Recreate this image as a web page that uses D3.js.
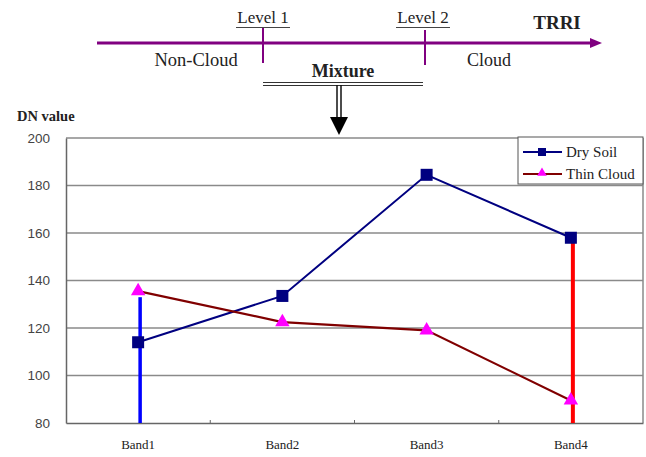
<!DOCTYPE html>
<html><head><meta charset="utf-8">
<script src="https://cdn.jsdelivr.net/npm/d3@7"></script>
<style>body{margin:0;background:#fff}svg{display:block}
.sf{font-family:"Liberation Serif","DejaVu Serif","Noto Serif",serif}
.ss{font-family:"Liberation Sans",Arial,sans-serif}</style>
</head><body>
<script>
const categories = ["Band1","Band2","Band3","Band4"];
const drySoil = [114, 133.5, 184.5, 158];
const thinCloud = [135.5, 122.5, 119, 89.5];
const yTicks = [80,100,120,140,160,180,200];
const seriesNames = ["Dry Soil","Thin Cloud"];

const W=646,H=457;
const svg=d3.select("body").append("svg").attr("width",W).attr("height",H);

const m={l:66,r:643,t:138,b:423};
const x=d3.scaleBand().domain(categories).range([m.l,m.r]);
const y=d3.scaleLinear().domain([80,200]).range([m.b,m.t]);
const cx=d=>x(d)+x.bandwidth()/2;

// gridlines
svg.append("g").selectAll("line").data(yTicks.slice(1)).join("line")
 .attr("x1",m.l).attr("x2",m.r).attr("y1",d=>y(d)).attr("y2",d=>y(d))
 .attr("stroke","#8a8a8a").attr("stroke-width",1.5);
svg.append("line").attr("x1",m.r).attr("x2",m.r).attr("y1",m.t).attr("y2",m.b).attr("stroke","#8a8a8a").attr("stroke-width",1.5);

// axes
const ya=svg.append("g").attr("transform",`translate(${m.l},0)`)
 .call(d3.axisLeft(y).tickValues(yTicks).tickSize(0).tickPadding(16));
ya.attr("font-family",null).attr("font-size",null);
ya.select(".domain").attr("stroke","#666").attr("stroke-width",1.5);
ya.selectAll("text").attr("class","ss").style("font-size","13.5px").attr("fill","#444");

const xa=svg.append("g").attr("transform",`translate(0,${m.b})`)
 .call(d3.axisBottom(x).tickSize(0).tickPadding(17));
xa.attr("font-family",null).attr("font-size",null);
xa.select(".domain").attr("stroke","#666").attr("stroke-width",1.5);
xa.selectAll("text").attr("class","sf").style("font-size","13px").attr("fill","#222");
svg.append("g").selectAll("line").data(categories.slice(1)).join("line")
 .attr("x1",d=>x(d)).attr("x2",d=>x(d)).attr("y1",m.b-3).attr("y2",m.b)
 .attr("stroke","#666").attr("stroke-width",1);

svg.append("text").attr("class","sf").attr("x",17).attr("y",121)
 .attr("font-weight","bold").style("font-size","14.5px").attr("fill","#222").text("DN value");

// vertical blue arrow at Band1 and red line at Band4
svg.append("line").attr("x1",cx(categories[0])+2).attr("x2",cx(categories[0])+2)
 .attr("y1",y(80)).attr("y2",y(thinCloud[0])+6).attr("stroke","#0000ff").attr("stroke-width",3.5);
svg.append("line").attr("x1",cx(categories[3])+2).attr("x2",cx(categories[3])+2)
 .attr("y1",y(80)).attr("y2",y(drySoil[3])).attr("stroke","#ff0000").attr("stroke-width",4);

const line=d3.line().x((d,i)=>cx(categories[i])).y(d=>y(d));
svg.append("path").datum(drySoil).attr("d",line).attr("fill","none").attr("stroke","#000080").attr("stroke-width",2);
svg.append("path").datum(thinCloud).attr("d",line).attr("fill","none").attr("stroke","#800000").attr("stroke-width",2.2);

svg.append("g").selectAll("rect").data(drySoil).join("rect")
 .attr("x",(d,i)=>cx(categories[i])-6).attr("y",d=>y(d)-6).attr("width",12).attr("height",12).attr("fill","#000080");
const tri=d3.symbol().type(d3.symbolTriangle).size(90);
svg.append("g").selectAll("path").data(thinCloud).join("path")
 .attr("transform",(d,i)=>`translate(${cx(categories[i])},${y(d)})`).attr("d",tri).attr("fill","#ff00ff");

// legend
const lg=svg.append("g");
lg.append("rect").attr("x",518).attr("y",137).attr("width",125).attr("height",47)
 .attr("fill","#fff").attr("stroke","#555").attr("stroke-width",1);
const lcol=["#000080","#800000"];
seriesNames.forEach((n,i)=>{
 const yy=152+i*22;
 lg.append("line").attr("x1",523).attr("x2",562).attr("y1",yy).attr("y2",yy).attr("stroke",lcol[i]).attr("stroke-width",2);
 if(i===0) lg.append("rect").attr("x",538).attr("y",yy-4).attr("width",8).attr("height",8).attr("fill","#000080");
 else lg.append("path").attr("transform",`translate(542,${yy-1})`).attr("d",d3.symbol().type(d3.symbolTriangle).size(40)).attr("fill","#ff00ff");
 lg.append("text").attr("class","sf").attr("x",566).attr("y",yy+5).style("font-size","15px").attr("fill","#222").text(n);
});

// top diagram
const diag=svg.append("g");
const pur="#800080";
diag.append("line").attr("x1",97).attr("x2",592).attr("y1",43).attr("y2",43).attr("stroke",pur).attr("stroke-width",3);
diag.append("path").attr("d","M590,38 L602,43 L590,48 Z").attr("fill",pur);
diag.append("line").attr("x1",263).attr("x2",263).attr("y1",28).attr("y2",63).attr("stroke",pur).attr("stroke-width",2);
diag.append("line").attr("x1",425).attr("x2",425).attr("y1",30).attr("y2",65).attr("stroke",pur).attr("stroke-width",2);
[["Level 1",263],["Level 2",423]].forEach(([t,xx])=>{
 diag.append("text").attr("class","sf").attr("x",xx).attr("y",23).attr("text-anchor","middle").style("font-size","17px").attr("fill","#222").text(t);
 diag.append("line").attr("x1",xx-27).attr("x2",xx+27).attr("y1",27.5).attr("y2",27.5).attr("stroke","#444").attr("stroke-width",1.2);
});
diag.append("text").attr("class","sf").attr("x",557).attr("y",29).attr("text-anchor","middle").attr("font-weight","bold").style("font-size","19px").attr("fill","#222").text("TRRI");
diag.append("text").attr("class","sf").attr("x",196).attr("y",66).attr("text-anchor","middle").style("font-size","18.5px").attr("fill","#222").text("Non-Cloud");
diag.append("text").attr("class","sf").attr("x",489).attr("y",66).attr("text-anchor","middle").style("font-size","18px").attr("fill","#222").text("Cloud");
diag.append("text").attr("class","sf").attr("x",343).attr("y",77).attr("text-anchor","middle").attr("font-weight","bold").style("font-size","18px").attr("fill","#222").text("Mixture");
diag.append("line").attr("x1",263).attr("x2",423).attr("y1",82.5).attr("y2",82.5).attr("stroke","#333").attr("stroke-width",1.2);
diag.append("line").attr("x1",263).attr("x2",423).attr("y1",85.5).attr("y2",85.5).attr("stroke","#333").attr("stroke-width",1.2);
diag.append("line").attr("x1",337).attr("x2",337).attr("y1",85).attr("y2",118).attr("stroke","#111").attr("stroke-width",1.5);
diag.append("line").attr("x1",341).attr("x2",341).attr("y1",85).attr("y2",118).attr("stroke","#111").attr("stroke-width",1.5);
diag.append("path").attr("d","M330,117 L348,117 L339,135 Z").attr("fill","#000");
</script>
</body></html>
